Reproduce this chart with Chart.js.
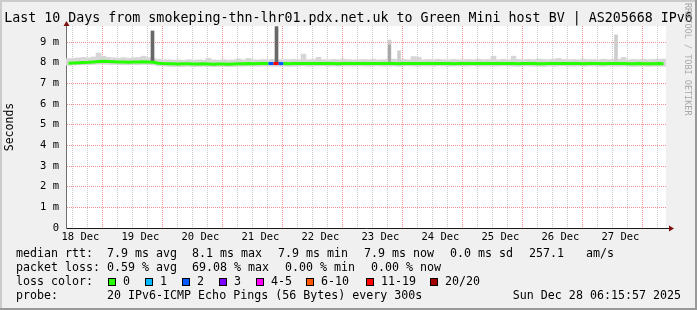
<!DOCTYPE html>
<html>
<head>
<meta charset="utf-8">
<script src="https://cdn.jsdelivr.net/npm/chart.js@4.4.1/dist/chart.umd.min.js"></script>
<style>
  html, body { margin: 0; padding: 0; background: #f0f0f0; }
  canvas { display: block; }
</style>
</head>
<body>
<canvas id="smoke" width="697" height="310"></canvas>
<script>
// Smokeping 10-day graph. x values are hours since Dec 18 00:00,
// data is consolidated into 2-hour buckets starting Dec 18 06:15.
const START_HOUR = 6.25;
const END_HOUR = 246.25;
const BUCKET_HOURS = 2;

const dayLabels = ['18 Dec', '19 Dec', '20 Dec', '21 Dec', '22 Dec', '23 Dec', '24 Dec', '25 Dec', '26 Dec', '27 Dec'];

// median rtt per bucket (ms)
const median = [
  7.98, 7.99, 8.00, 8.01, 8.02, 8.04, 8.06, 8.07, 8.06, 8.05, 8.04, 8.04, 8.03, 8.04, 8.04, 8.05, 8.04, 8.02, 7.98, 7.96,
  7.95, 7.95, 7.94, 7.95, 7.95, 7.94, 7.94, 7.95, 7.94, 7.93, 7.94, 7.94, 7.93, 7.94, 7.95, 7.95, 7.96, 7.95, 7.96, 7.96,
  7.96, 7.97, 7.96, 7.96, 7.95, 7.96, 7.96, 7.97, 7.96, 7.96, 7.96, 7.97, 7.96, 7.96, 7.95, 7.96, 7.96, 7.96, 7.97, 7.96,
  7.96, 7.96, 7.97, 7.96, 7.96, 7.96, 7.95, 7.96, 7.97, 7.97, 7.96, 7.96, 7.96, 7.96, 7.97, 7.96, 7.96, 7.95, 7.96, 7.96,
  7.96, 7.97, 7.96, 7.96, 7.96, 7.96, 7.97, 7.96, 7.96, 7.96, 7.95, 7.96, 7.96, 7.96, 7.95, 7.95, 7.96, 7.96, 7.96, 7.97,
  7.96, 7.96, 7.96, 7.95, 7.96, 7.96, 7.96, 7.95, 7.96, 7.96, 7.96, 7.96, 7.95, 7.95, 7.96, 7.95, 7.95, 7.95, 7.96, 7.95
];

// smoke envelope per bucket (ms)
const smokeLow = [
  7.88, 7.89, 7.90, 7.90, 7.91, 7.92, 7.93, 7.93, 7.92, 7.92, 7.91, 7.91, 7.90, 7.91, 7.91, 7.92, 7.91, 7.90, 7.86, 7.84,
  7.83, 7.82, 7.81, 7.82, 7.83, 7.81, 7.82, 7.83, 7.82, 7.81, 7.82, 7.82, 7.81, 7.82, 7.83, 7.83, 7.84, 7.83, 7.83, 7.84,
  7.84, 7.83, 7.83, 7.84, 7.83, 7.83, 7.84, 7.85, 7.83, 7.84, 7.84, 7.85, 7.83, 7.84, 7.83, 7.84, 7.84, 7.83, 7.85, 7.84,
  7.83, 7.84, 7.85, 7.83, 7.84, 7.84, 7.83, 7.84, 7.85, 7.84, 7.83, 7.84, 7.84, 7.83, 7.85, 7.84, 7.83, 7.84, 7.84, 7.83,
  7.84, 7.85, 7.83, 7.84, 7.84, 7.83, 7.84, 7.85, 7.84, 7.83, 7.83, 7.84, 7.84, 7.83, 7.83, 7.82, 7.84, 7.83, 7.84, 7.85,
  7.84, 7.83, 7.84, 7.83, 7.84, 7.84, 7.83, 7.83, 7.84, 7.83, 7.83, 7.84, 7.83, 7.82, 7.83, 7.83, 7.82, 7.83, 7.84, 7.83
];
const smokeHigh = [
  8.20, 8.22, 8.24, 8.26, 8.24, 8.28, 8.47, 8.32, 8.26, 8.24, 8.22, 8.25, 8.22, 8.24, 8.26, 8.32, 8.25, 8.20, 8.16, 8.14,
  8.15, 8.13, 8.14, 8.12, 8.15, 8.13, 8.14, 8.13, 8.22, 8.14, 8.13, 8.15, 8.13, 8.14, 8.19, 8.15, 8.21, 8.15, 8.14, 8.16,
  8.15, 8.17, 8.15, 8.14, 8.15, 8.16, 8.15, 8.42, 8.15, 8.16, 8.26, 8.15, 8.14, 8.16, 8.15, 8.17, 8.15, 8.14, 8.15, 8.16,
  8.15, 8.17, 8.14, 8.15, 8.16, 8.18, 8.15, 8.17, 8.15, 8.30, 8.27, 8.15, 8.16, 8.15, 8.17, 8.15, 8.14, 8.16, 8.15, 8.15,
  8.16, 8.15, 8.17, 8.15, 8.16, 8.32, 8.15, 8.17, 8.15, 8.32, 8.16, 8.15, 8.17, 8.15, 8.18, 8.16, 8.15, 8.17, 8.21, 8.16,
  8.15, 8.16, 8.15, 8.17, 8.15, 8.16, 8.15, 8.17, 8.15, 8.16, 8.17, 8.26, 8.15, 8.16, 8.15, 8.17, 8.15, 8.16, 8.17, 8.18
];

// buckets with packet loss (lost pings out of 20)
const lossBuckets = [40, 41, 42];
const lossCounts  = [2, 15, 2];

// single tall outliers in the smoke (hour, low, high)
const darkSpikeHours = [40.85, 90.45];
const darkSpikeLow   = [8.02, 7.95];
const darkSpikeHigh  = [9.54, 9.75];
const midSpikeHours  = [135.65];
const midSpikeLow    = [7.95];
const midSpikeHigh   = [8.86];
const lightSpikeHours = [135.65, 139.45, 226.25];
const lightSpikeLow   = [7.95, 7.95, 7.95];
const lightSpikeHigh  = [9.10, 8.58, 9.35];

const LOSS_COLORS = ['#26ff00', '#00b8ff', '#0059ff', '#7e00ff', '#ff00ff', '#ff5500', '#ff0000', '#a10000'];
const LOSS_LABELS = ['0', '1', '2', '3', '4-5', '6-10', '11-19', '20/20'];

const MONO = '"DejaVu Sans Mono", "Liberation Mono", monospace';

function lossBand(n) {
  if (n <= 3) return n;
  if (n <= 5) return 4;
  if (n <= 10) return 5;
  if (n <= 19) return 6;
  return 7;
}
function lossAt(i) {
  const k = lossBuckets.indexOf(i);
  return k === -1 ? 0 : lossCounts[k];
}

const times = median.map((_, i) => START_HOUR + BUCKET_HOURS * i + BUCKET_HOURS / 2);
const pairs = (xs, lo, hi) => xs.map((x, i) => ({ x, y: [lo[i], hi[i]] }));

// ---------------------------------------------------------------------------
// Frame, title, legend and the rrdtool decorations
// ---------------------------------------------------------------------------
const rrdFrame = {
  id: 'rrdFrame',
  beforeDraw(chart) {
    const { ctx, chartArea: a, width, height } = chart;
    ctx.save();
    ctx.fillStyle = '#f0f0f0';
    ctx.fillRect(0, 0, width, height);
    ctx.fillStyle = '#cbcbcb';
    ctx.fillRect(0, 0, width, 2);
    ctx.fillRect(0, 0, 2, height);
    ctx.fillStyle = '#999999';
    ctx.fillRect(0, height - 2, width, 2);
    ctx.fillRect(width - 2, 0, 2, height);
    ctx.fillStyle = '#ffffff';
    ctx.fillRect(a.left, a.top, a.right - a.left, a.bottom - a.top);
    ctx.restore();
  },
  afterDraw(chart) {
    const { ctx, chartArea: a } = chart;
    ctx.save();

    // axis arrows
    ctx.strokeStyle = '#1a1a1a';
    ctx.lineWidth = 1;
    ctx.beginPath();
    ctx.moveTo(a.right, a.bottom + 0.5);
    ctx.lineTo(a.right + 4, a.bottom + 0.5);
    ctx.stroke();
    ctx.fillStyle = '#7f1010';
    ctx.beginPath();
    ctx.moveTo(a.right + 8, a.bottom + 0.5);
    ctx.lineTo(a.right + 3, a.bottom - 2.5);
    ctx.lineTo(a.right + 3, a.bottom + 3.5);
    ctx.closePath();
    ctx.fill();
    ctx.beginPath();
    ctx.moveTo(a.left + 0.5, a.top - 5);
    ctx.lineTo(a.left - 2.5, a.top);
    ctx.lineTo(a.left + 3.5, a.top);
    ctx.closePath();
    ctx.fill();

    // title
    ctx.fillStyle = '#000';
    ctx.font = '13.3px ' + MONO;
    ctx.textAlign = 'center';
    ctx.textBaseline = 'alphabetic';
    ctx.fillText('Last 10 Days from smokeping-thn-lhr01.pdx.net.uk to Green Mini host BV | AS205668 IPv6', 348.5, 22);

    // legend
    ctx.font = '11.65px ' + MONO;
    ctx.textAlign = 'left';
    const rows = [
      [257, [[16, 'median rtt:'], [107, '7.9 ms avg'], [192, '8.1 ms max'], [278, '7.9 ms min'], [364, '7.9 ms now'], [450, '0.0 ms sd'], [529, '257.1'], [586, 'am/s']]],
      [271, [[16, 'packet loss:'], [107, '0.59 % avg'], [192, '69.08 % max'], [285, '0.00 % min'], [371, '0.00 % now']]],
      [285, [[16, 'loss color:']]],
      [299, [[16, 'probe:'], [107, '20 IPv6-ICMP Echo Pings (56 Bytes) every 300s']]]
    ];
    rows.forEach(([y, parts]) => parts.forEach(([x, t]) => ctx.fillText(t, x, y)));
    ctx.textAlign = 'right';
    ctx.fillText('Sun Dec 28 06:15:57 2025', 681, 299);

    // loss colour swatches
    const boxX = [108, 145, 182, 219, 256, 306, 366, 430];
    ctx.textAlign = 'left';
    LOSS_LABELS.forEach((lab, i) => {
      ctx.fillStyle = LOSS_COLORS[i];
      ctx.fillRect(boxX[i], 278, 8, 8);
      ctx.strokeStyle = '#000';
      ctx.strokeRect(boxX[i] + 0.5, 278.5, 7, 7);
      ctx.fillStyle = '#000';
      ctx.fillText(lab, boxX[i] + 15, 285);
    });

    // watermark
    ctx.translate(685, 3);
    ctx.rotate(Math.PI / 2);
    ctx.font = '8.5px ' + MONO;
    ctx.fillStyle = '#a8a8a8';
    ctx.textBaseline = 'alphabetic';
    ctx.fillText('RRDTOOL / TOBI OETIKER', 0, 0);

    ctx.restore();
  }
};

const isInt = v => Math.abs(v - Math.round(v)) < 1e-6;

new Chart(document.getElementById('smoke'), {
  type: 'bar',
  data: {
    datasets: [
      {
        type: 'line',
        data: times.map((x, i) => ({ x, y: median[i] })),
        borderColor: LOSS_COLORS[0],
        borderWidth: 3,
        pointRadius: 0,
        tension: 0,
        segment: {
          borderColor: c => LOSS_COLORS[lossBand(lossAt(c.p0DataIndex))],
        },
        order: 0,
      },
      {
        data: pairs(darkSpikeHours, darkSpikeLow, darkSpikeHigh),
        backgroundColor: '#686868',
        barThickness: 3,
        stack: 'smoke',
        order: 1,
      },
      {
        data: pairs(midSpikeHours, midSpikeLow, midSpikeHigh),
        backgroundColor: '#a4a4a4',
        barThickness: 2,
        stack: 'smoke',
        order: 2,
      },
      {
        data: pairs(lightSpikeHours, lightSpikeLow, lightSpikeHigh),
        backgroundColor: '#cdcdcd',
        barThickness: 3,
        stack: 'smoke',
        order: 3,
      },
      {
        data: pairs(times, smokeLow, smokeHigh),
        backgroundColor: '#d6d6d6',
        barThickness: 5,
        stack: 'smoke',
        order: 4,
      },
    ],
  },
  options: {
    responsive: false,
    animation: false,
    layout: { padding: { top: 26, right: 31, left: 0, bottom: 0 } },
    plugins: {
      legend: { display: false },
      tooltip: { enabled: false },
    },
    scales: {
      x: {
        type: 'linear',
        min: START_HOUR,
        max: END_HOUR,
        offset: false,
        afterBuildTicks: s => {
          const t = [];
          for (let h = 12; h <= END_HOUR; h += 6) t.push({ value: h });
          s.ticks = t;
        },
        afterFit: s => { s.height = 82; },
        ticks: {
          autoSkip: false,
          maxRotation: 0,
          padding: 3,
          color: '#000',
          font: { family: MONO, size: 10.5 },
          callback: v => ((v - 12) % 24 === 0 ? dayLabels[(v - 12) / 24] : ''),
        },
        grid: {
          drawTicks: false,
          lineWidth: 1,
          color: c => (c.tick && c.tick.value % 24 === 0 ? '#f09090' : '#c8c8c8'),
        },
        border: { display: true, color: '#1a1a1a', width: 1, dash: [1, 1] },
      },
      y: {
        min: 0,
        max: 9.78,
        stacked: false,
        afterBuildTicks: s => {
          const t = [];
          for (let k = 0; k <= 19; k++) t.push({ value: k / 2 });
          s.ticks = t;
        },
        afterFit: s => { s.width = 66; },
        ticks: {
          padding: 7,
          color: '#000',
          font: { family: MONO, size: 10.5 },
          callback: v => (v === 0 ? '0' : isInt(v) ? v + ' m' : ''),
        },
        grid: {
          drawTicks: false,
          lineWidth: 1,
          color: c => (c.tick && isInt(c.tick.value) ? '#f09090' : '#c8c8c8'),
        },
        border: { display: true, color: '#6f6f6f', width: 1, dash: [1, 1] },
        title: {
          display: true,
          text: 'Seconds',
          color: '#000',
          font: { family: MONO, size: 11.5 },
          padding: { top: 3, bottom: 0 },
        },
      },
    },
  },
  plugins: [rrdFrame],
});
</script>
</body>
</html>
